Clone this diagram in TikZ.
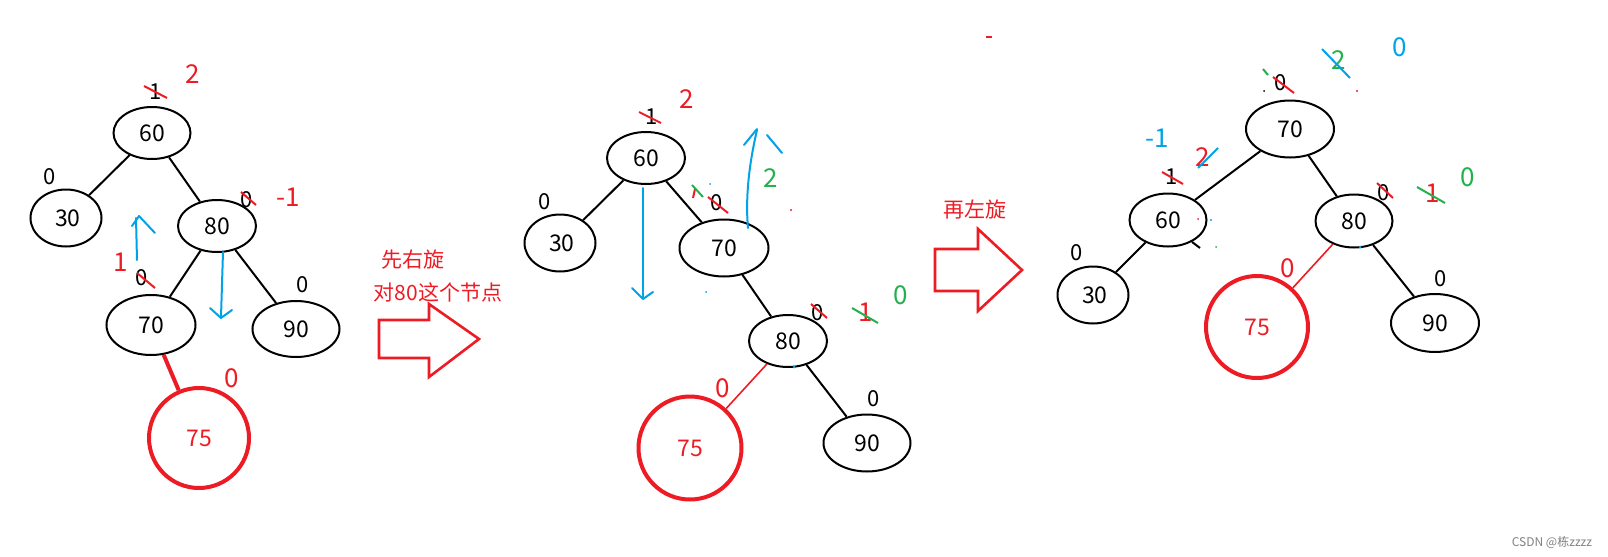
\documentclass[tikz,border=0pt]{standalone}
\usepackage{fontspec}
\setmainfont{Noto Sans CJK SC}
\usetikzlibrary{shapes.geometric}
\definecolor{pred}{HTML}{ED1C24}
\definecolor{pblue}{HTML}{00A2E8}
\definecolor{pgreen}{HTML}{22B14C}
\tikzset{
  ell/.style={draw, ellipse, line width=1pt, inner sep=0pt, font=\fontsize{11.5}{13}\selectfont},
  redc/.style={draw=pred, circle, line width=2pt, inner sep=0pt, text=pred, minimum size=50pt, font=\fontsize{11.5}{13}\selectfont},
  tedge/.style={line width=1pt},
  redge/.style={draw=pred, line width=0.8pt},
  bf/.style={font=\fontsize{11}{12}\selectfont, inner sep=0pt},
  hred/.style={text=pred, font=\fontsize{13}{14}\selectfont, inner sep=0pt},
  hgreen/.style={text=pgreen, font=\fontsize{13}{14}\selectfont, inner sep=0pt},
  hblue/.style={text=pblue, font=\fontsize{13}{14}\selectfont, inner sep=0pt},
  rstrike/.style={draw=pred, line width=1pt},
  gstrike/.style={draw=pgreen, line width=1pt},
  bstrike/.style={draw=pblue, line width=1pt},
  barrow/.style={draw=pblue, line width=1pt, line cap=round, line join=round},
  blk/.style={draw=pred, line width=1.3pt},
  captext/.style={text=pred, font=\fontsize{10.5}{12}\selectfont, inner sep=0pt}
}
\begin{document}
\begin{tikzpicture}[x=0.5pt,y=-0.5pt]
\useasboundingbox (0,0) rectangle (1608,557);

% ---------- left tree ----------
\node[ell, minimum width=38.5pt, minimum height=26pt] (l60) at (152,133) {60};
\node[ell, minimum width=35.5pt, minimum height=28.5pt] (l30) at (66,218) {\,30};
\node[ell, minimum width=39pt, minimum height=26pt] (l80) at (217,226) {80};
\node[ell, minimum width=44.5pt, minimum height=30pt] (l70) at (151,325) {70};
\node[ell, minimum width=43.5pt, minimum height=28pt] (l90) at (296,329) {90};
\node[redc] (l75) at (199,438) {75};
\draw[tedge] (l60) -- (l30);
\draw[tedge] (l60) -- (l80);
\draw[tedge] (l80) -- (l70);
\draw[tedge] (l80) -- (l90);
\draw[draw=pred, line width=2pt] (l70) -- (l75);

\node[bf] (l1a) at (156,92) {1};
\draw[rstrike] (144,86) -- (167,98);
\node[hred] (l2a) at (193,74) {2};
\node[bf] (l0a) at (50,177) {0};
\node[bf] (l0b) at (247,200) {0};
\draw[rstrike] (241,192) -- (256,205);
\node[hred] (lm1) at (288,197) {-1};
\node[hred] (l1b) at (121,262) {1};
\node[bf] (l0c) at (142,278) {0};
\draw[rstrike] (137,273) -- (155,288);
\node[bf] (l0d) at (303,285) {0};
\node[hred] (l0e) at (232,378) {0};
% blue arrows
\draw[barrow] (137,260) -- (136,218);
\draw[barrow] (132,226) -- (139,216) -- (155,233);
\draw[barrow] (223,252) -- (221,317);
\draw[barrow] (210,308) -- (221,318) -- (232,310);

% ---------- first block arrow ----------
\node[captext] (t1) at (413,260) {先右旋};
\node[captext] (t2) at (438,292) {对80这个节点};
\draw[blk] (379,320) -- (429,320) -- (429,304) -- (479,339) -- (429,377) -- (429,358) -- (379,358) -- cycle;

% ---------- middle tree ----------
\node[ell, minimum width=39pt, minimum height=26pt] (m60) at (646,158) {60};
\node[ell, minimum width=35.5pt, minimum height=28.5pt] (m30) at (560,243) {\,30};
\node[ell, minimum width=44.5pt, minimum height=28.5pt] (m70) at (724,248) {70};
\node[ell, minimum width=39pt, minimum height=26pt] (m80) at (788,341) {80};
\node[ell, minimum width=43.5pt, minimum height=28.5pt] (m90) at (867,443) {90};
\node[redc, minimum size=51.5pt] (m75) at (690,448) {75};
\draw[tedge] (m60) -- (m30);
\draw[tedge] (m60) -- (m70);
\draw[tedge] (m70) -- (m80);
\draw[tedge] (m80) -- (m90);
\draw[redge] (m80) -- (m75);

\node[bf] (m1a) at (652,117) {1};
\draw[rstrike] (639,112) -- (661,123);
\node[hred] (m2a) at (687,99) {2};
\node[bf] (m0a) at (545,202) {0};
\node[bf] (m0b) at (717,203) {0};
\draw[rstrike] (708,197) -- (728,213);
\draw[rstrike] (695,189) -- (693,198);
\draw[gstrike] (692,185) -- (703,197);
\fill[pblue] (710,184) circle (1);
\fill[pblue] (706,292) circle (1);
\fill[pblue] (794,367) circle (1.5);
\fill[pred] (791,210) circle (1.2);
\node[hgreen] (m2b) at (771,178) {2};
\draw[barrow] (748,228) .. controls (745,195) and (750,160) .. (757,130);
\draw[barrow] (744,145) -- (757,129);
\draw[barrow] (767,135) -- (782,153);
\draw[barrow] (643,188) -- (643,298);
\draw[barrow] (632,288) -- (643,299) -- (653,292);
\node[bf] (m0c) at (818,313) {0};
\draw[rstrike] (811,304) -- (827,318);
\node[hred] (m1b) at (866,312) {1};
\draw[gstrike] (852,308) -- (878,323);
\node[hgreen] (m0d) at (901,295) {0};
\node[bf] (m0e) at (874,399) {0};
\node[hred] (m0f) at (723,388) {0};

% ---------- second block arrow ----------
\node[captext] (t3) at (975,210) {再左旋};
\draw[blk] (935,249) -- (978,249) -- (978,229) -- (1022,270) -- (978,311) -- (978,291) -- (935,291) -- cycle;
\draw[draw=pred, line width=0.8pt] (986,37) -- (992,37);

% ---------- right tree ----------
\node[ell, minimum width=44pt, minimum height=28.5pt] (r70) at (1290,129) {70};
\node[ell, minimum width=38.5pt, minimum height=26.5pt] (r60) at (1168,220) {60};
\node[ell, minimum width=38.5pt, minimum height=26.5pt] (r80) at (1354,221) {80};
\node[ell, minimum width=35.5pt, minimum height=28.5pt] (r30) at (1093,295) {\,30};
\node[ell, minimum width=44pt, minimum height=29pt] (r90) at (1435,323) {90};
\node[redc, minimum size=51pt] (r75) at (1257,327) {75};
\draw[tedge] (r70) -- (r60);
\draw[tedge] (r70) -- (r80);
\draw[tedge] (r60) -- (r30);
\draw[tedge] (r80) -- (r90);
\draw[redge] (r80) -- (r75);

\node[bf] (r0a) at (1281,83) {0};
\draw[rstrike] (1273,77) -- (1294,93);
\draw[gstrike] (1263,69) -- (1268,75);
\fill (1264,91) circle (1);
\node[hgreen] (r2a) at (1339,60) {2};
\draw[bstrike] (1322,49) -- (1350,78);
\node[hblue] (r0b) at (1400,47) {0};
\fill[pred] (1357,91) circle (1.2);
\node[hblue] (rm1) at (1157,138) {-1};
\node[hred] (r2b) at (1203,157) {2};
\draw[bstrike] (1198,168) -- (1218,148);
\node[bf] (r1a) at (1172,177) {1};
\draw[rstrike] (1162,172) -- (1183,184);
\node[bf] (r0c) at (1077,253) {0};
\node[bf] (r0d) at (1384,193) {0};
\draw[rstrike] (1377,183) -- (1393,198);
\node[hred] (r1b) at (1433,193) {1};
\draw[gstrike] (1417,187) -- (1445,203);
\node[hgreen] (r0e) at (1468,177) {0};
\node[bf] (r0f) at (1441,279) {0};
\node[hred] (r0g) at (1288,268) {0};
\fill[pblue] (1211,220) circle (1.2);
\fill[pblue] (1360,247) circle (1.5);
\fill[pred] (1198,219) circle (1);
\fill[pgreen] (1216,247) circle (1);
\draw[line width=1pt] (1192,242) -- (1200,248);

% watermark
\node[text=gray, font=\fontsize{6}{7}\selectfont, inner sep=0pt] (wm) at (1552,542) {CSDN @栋zzzz};
\end{tikzpicture}
\end{document}
